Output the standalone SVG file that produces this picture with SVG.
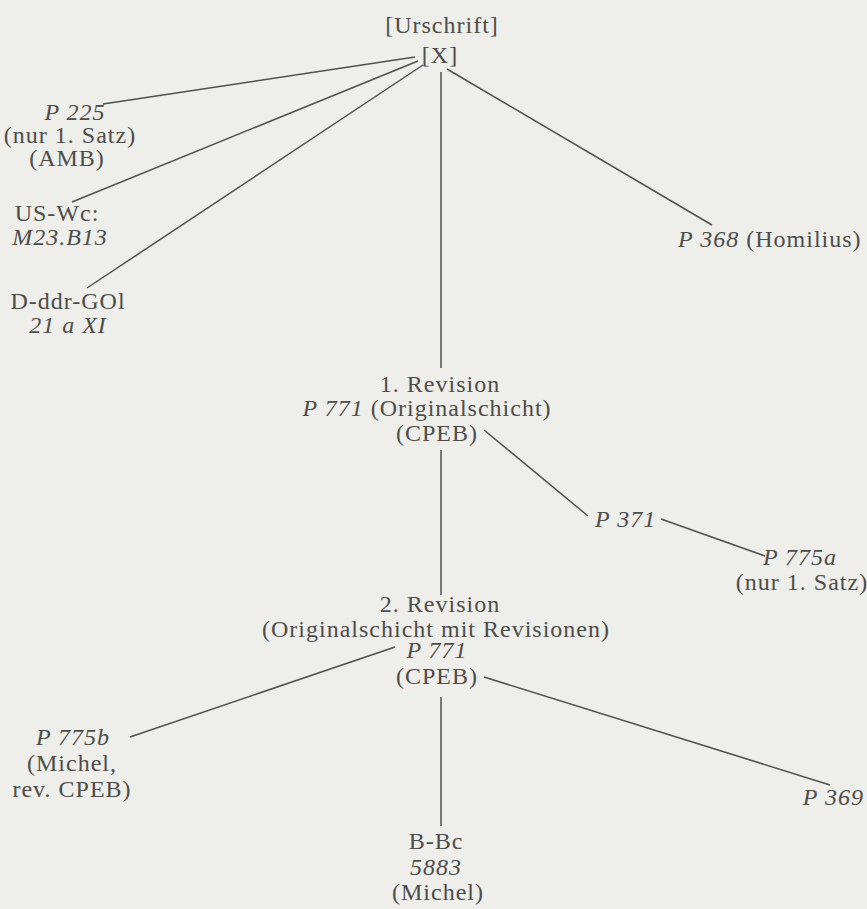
<svg xmlns="http://www.w3.org/2000/svg" width="867" height="909" viewBox="0 0 867 909">
<style>
text{font-family:"Liberation Serif","Times New Roman",serif;font-size:24px;fill:#4d4d4a;letter-spacing:1px}
.m{text-anchor:middle}
.e{text-anchor:end}
.i{font-style:italic}
#connectors line{stroke:#505050;stroke-width:1.5}
</style>
<rect width="867" height="909" fill="#eeeeea"/>
<g id="connectors">
<line x1="415" y1="57" x2="103" y2="104"/>
<line x1="418" y1="61" x2="72" y2="202"/>
<line x1="423" y1="65" x2="87" y2="288"/>
<line x1="441" y1="72" x2="441" y2="368"/>
<line x1="447" y1="69" x2="712" y2="225"/>
<line x1="484" y1="430" x2="588" y2="516"/>
<line x1="661" y1="519" x2="765" y2="556"/>
<line x1="441" y1="450" x2="441" y2="595"/>
<line x1="395" y1="647" x2="130" y2="737"/>
<line x1="484" y1="677" x2="830" y2="785"/>
<line x1="441" y1="697" x2="441" y2="826"/>
</g>
<g id="urschrift">
<text class="m" x="442" y="33">[Urschrift]</text>
<text class="m" x="440" y="63">[X]</text>
</g>
<g id="p225">
<text class="m i" x="75" y="120">P 225</text>
<text class="m" x="70" y="143">(nur 1. Satz)</text>
<text class="m" x="67" y="166">(AMB)</text>
</g>
<g id="uswc">
<text class="m" x="57" y="221">US-Wc:</text>
<text class="m i" x="60" y="245">M23.B13</text>
</g>
<g id="dddr">
<text class="m" x="68" y="309">D-ddr-GOl</text>
<text class="m i" x="68" y="333">21 a XI</text>
</g>
<g id="p368">
<text x="678" y="247"><tspan class="i">P 368</tspan> (Homilius)</text>
</g>
<g id="rev1">
<text class="m" x="440" y="392">1. Revision</text>
<text class="m" x="427" y="416"><tspan class="i">P 771</tspan> (Originalschicht)</text>
<text class="m" x="437" y="441">(CPEB)</text>
</g>
<g id="p371">
<text class="i" x="595" y="527">P 371</text>
</g>
<g id="p775a">
<text class="m i" x="800" y="565">P 775a</text>
<text class="m" x="802" y="590">(nur 1. Satz)</text>
</g>
<g id="rev2">
<text class="m" x="440" y="612">2. Revision</text>
<text class="m" x="436" y="637">(Originalschicht mit Revisionen)</text>
<text class="m i" x="437" y="658">P 771</text>
<text class="m" x="437" y="684">(CPEB)</text>
</g>
<g id="p775b">
<text class="m i" x="73" y="745">P 775b</text>
<text class="m" x="72" y="771">(Michel,</text>
<text class="m" x="72" y="797">rev. CPEB)</text>
</g>
<g id="p369">
<text class="e i" x="864" y="805">P 369</text>
</g>
<g id="bbc">
<text class="m" x="436" y="849">B-Bc</text>
<text class="m i" x="436" y="875">5883</text>
<text class="m" x="438" y="900">(Michel)</text>
</g>
</svg>
